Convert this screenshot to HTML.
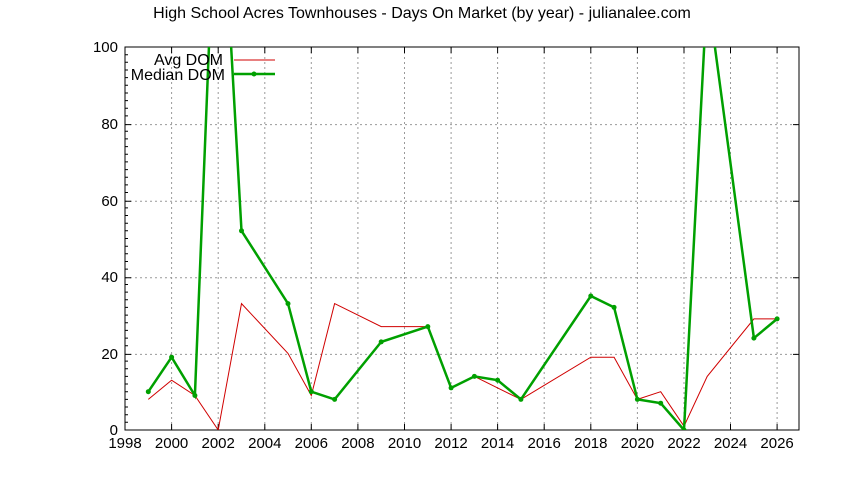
<!DOCTYPE html>
<html><head><style>body{margin:0;background:#fff}svg{display:block}text{font-family:"Liberation Sans",sans-serif;font-size:15px;fill:#000}.b{font-size:16px}</style></head>
<body>
<svg width="844" height="480" viewBox="0 0 844 480" xmlns="http://www.w3.org/2000/svg">
<defs><clipPath id="c"><rect x="125" y="47" width="674" height="383"/></clipPath></defs>
<text class="b" x="422" y="18" text-anchor="middle">High School Acres Townhouses - Days On Market (by year) - julianalee.com</text>
<g stroke="#999" stroke-dasharray="2,3" stroke-width="1">
<path d="M125 124.6H799M125 201.2H799M125 277.8H799M125 354.4H799"/>
<path d="M171.6 47V430M218.2 47V430M264.8 47V430M311.3 47V430M357.9 47V430M404.5 47V430M451.1 47V430M497.6 47V430M544.2 47V430M590.8 47V430M637.4 47V430M684 47V430M730.5 47V430M777.1 47V430"/>
</g>
<rect x="125" y="47" width="674" height="383" fill="none" stroke="#000"/>
<g stroke="#000">
<path d="M125 124.6h6M125 201.2h6M125 277.8h6M125 354.4h6M799 124.6h-6M799 201.2h-6M799 277.8h-6M799 354.4h-6"/>
<path d="M171.6 430v-6M218.2 430v-6M264.8 430v-6M311.3 430v-6M357.9 430v-6M404.5 430v-6M451.1 430v-6M497.6 430v-6M544.2 430v-6M590.8 430v-6M637.4 430v-6M684 430v-6M730.5 430v-6M777.1 430v-6"/>
<path d="M171.6 47v6M218.2 47v6M264.8 47v6M311.3 47v6M357.9 47v6M404.5 47v6M451.1 47v6M497.6 47v6M544.2 47v6M590.8 47v6M637.4 47v6M684 47v6M730.5 47v6M777.1 47v6"/>
<path d="M125 54.7h3M125 62.3h3M125 70h3M125 77.6h3M125 85.3h3M125 93h3M125 100.6h3M125 108.3h3M125 115.9h3M125 131.3h3M125 138.9h3M125 146.6h3M125 154.2h3M125 161.9h3M125 169.6h3M125 177.2h3M125 184.9h3M125 192.5h3M125 207.9h3M125 215.5h3M125 223.2h3M125 230.8h3M125 238.5h3M125 246.2h3M125 253.8h3M125 261.5h3M125 269.1h3M125 284.5h3M125 292.1h3M125 299.8h3M125 307.4h3M125 315.1h3M125 322.8h3M125 330.4h3M125 338.1h3M125 345.7h3M125 361.1h3M125 368.7h3M125 376.4h3M125 384h3M125 391.7h3M125 399.4h3M125 407h3M125 414.7h3M125 422.3h3"/>
</g>
<g text-anchor="end">
<text x="118" y="435">0</text><text x="118" y="359">20</text><text x="118" y="282">40</text><text x="118" y="206">60</text><text x="118" y="129">80</text><text x="118" y="52">100</text>
</g>
<g text-anchor="middle">
<text x="125" y="448">1998</text><text x="171.6" y="448">2000</text><text x="218.2" y="448">2002</text><text x="264.8" y="448">2004</text><text x="311.3" y="448">2006</text><text x="357.9" y="448">2008</text><text x="404.5" y="448">2010</text><text x="451.1" y="448">2012</text><text x="497.6" y="448">2014</text><text x="544.2" y="448">2016</text><text x="590.8" y="448">2018</text><text x="637.4" y="448">2020</text><text x="684" y="448">2022</text><text x="730.5" y="448">2024</text><text x="777.1" y="448">2026</text>
</g>
<g clip-path="url(#c)" fill="none">
<polyline stroke="#d00000" stroke-width="1" points="148.3,399.4 171.6,380.2 194.9,395.5 218.2,430 241.5,303.6 288,353.4 311.3,395.5 334.6,303.6 381.2,326.6 427.8,326.6 451.1,387.9 474.4,376.4 497.6,387.9 520.9,399.4 590.8,357.2 614.1,357.2 637.4,399.4 660.7,391.7 684,426.2 707.2,376.4 753.9,318.9 777.1,318.9"/>
<polyline stroke="#00a000" stroke-width="2.5" points="148.3,391.7 171.6,357.2 194.9,395.5 218.2,-182.8 241.5,230.8 288,303.6 311.3,391.7 334.6,399.4 381.2,341.9 427.8,326.6 451.1,387.9 474.4,376.4 497.6,380.2 520.9,399.4 590.8,296 614.1,307.4 637.4,399.4 660.7,403.2 684,430 707.2,-10.5 753.9,338.1 777.1,318.9"/>
<g fill="#00a000">
<circle cx="148.3" cy="391.7" r="2.5"/><circle cx="171.6" cy="357.2" r="2.5"/><circle cx="194.9" cy="395.5" r="2.5"/><circle cx="241.5" cy="230.8" r="2.5"/><circle cx="288" cy="303.6" r="2.5"/><circle cx="311.3" cy="391.7" r="2.5"/><circle cx="334.6" cy="399.4" r="2.5"/><circle cx="381.2" cy="341.9" r="2.5"/><circle cx="427.8" cy="326.6" r="2.5"/><circle cx="451.1" cy="387.9" r="2.5"/><circle cx="474.4" cy="376.4" r="2.5"/><circle cx="497.6" cy="380.2" r="2.5"/><circle cx="520.9" cy="399.4" r="2.5"/><circle cx="590.8" cy="296" r="2.5"/><circle cx="614.1" cy="307.4" r="2.5"/><circle cx="637.4" cy="399.4" r="2.5"/><circle cx="660.7" cy="403.2" r="2.5"/><circle cx="684" cy="430" r="2.5"/><circle cx="753.9" cy="338.1" r="2.5"/><circle cx="777.1" cy="318.9" r="2.5"/>
</g>
</g>
<text class="b" x="223" y="65" text-anchor="end">Avg DOM</text>
<text class="b" x="225" y="80" text-anchor="end">Median DOM</text>
<path d="M234 60H275" stroke="#d00000"/>
<path d="M234 74H275" stroke="#00a000" stroke-width="2.5"/>
<circle cx="254" cy="74" r="2.5" fill="#00a000"/>
</svg>
</body></html>
